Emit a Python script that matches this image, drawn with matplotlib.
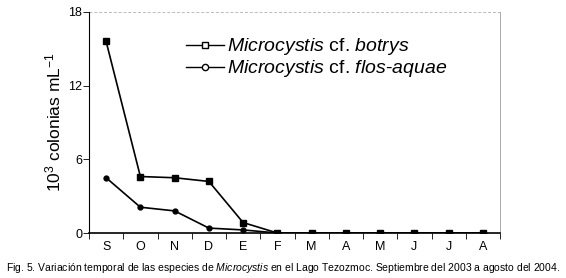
import numpy as np
import matplotlib
matplotlib.use("Agg")
import matplotlib.pyplot as plt
from matplotlib.lines import Line2D

plt.rcParams['font.family'] = ['Liberation Sans', 'DejaVu Sans']
plt.rcParams['mathtext.fontset'] = 'custom'
plt.rcParams['mathtext.rm'] = 'Liberation Sans'
plt.rcParams['mathtext.it'] = 'Liberation Sans:italic'

months = ["S", "O", "N", "D", "E", "F", "M", "A", "M", "J", "J", "A"]
botrys = [15.6, 4.6, 4.5, 4.2, 0.85, 0, 0, 0, 0, 0, 0, 0]
flos_aquae = [4.5, 2.1, 1.8, 0.4, 0.25, 0, 0, 0, 0, 0, 0, 0]
yticks = [0, 6, 12, 18]
caption = ("Fig. 5. Variación temporal de las especies de $\\mathit{Microcystis}$ "
           "en el Lago Tezozmoc. Septiembre del 2003 a agosto del 2004.")

fig = plt.figure(figsize=(5.66, 2.78), dpi=100)
ax = fig.add_axes([89 / 566, 45 / 278, 411 / 566, 221 / 278])

x = np.arange(len(months)) + 0.5
ax.plot(x, flos_aquae, color='black', lw=1.2, marker='o', ms=3.5, zorder=3)
ax.plot(x, botrys, color='black', lw=1.2, marker='s', ms=5, zorder=4)

ax.set_xlim(0, len(months))
ax.set_ylim(0, 18)
ax.set_yticks(yticks)
ax.set_xticks(x)
ax.set_xticklabels(months)
ax.set_xticks(np.arange(len(months) + 1), minor=True)
ax.tick_params(axis='x', which='major', length=0, pad=6, labelsize=9)
ax.tick_params(axis='x', which='minor', length=4, direction='out', width=0.6)
ax.tick_params(axis='y', length=4, width=0.6, pad=1, labelsize=9)

ax.axhline(18, color='#bbbbbb', lw=0.7, ls=(0, (3, 2)), zorder=1)
ax.spines['top'].set_visible(False)
ax.spines['right'].set_color('#aaaaaa')
ax.spines['right'].set_linewidth(0.7)
ax.spines['left'].set_linewidth(0.8)
ax.spines['bottom'].set_linewidth(1.2)

ax.set_ylabel("10$^3$ colonias mL$^{-1}$", fontsize=12.5, labelpad=3)

handles = [
    Line2D([], [], color='black', lw=1, marker='s', ms=5, mfc='white', mec='black'),
    Line2D([], [], color='black', lw=1, marker='o', ms=4.5, mfc='white', mec='black'),
]
labels = ["$\\mathit{Microcystis}$ cf. $\\mathit{botrys}$",
          "$\\mathit{Microcystis}$ cf. $\\mathit{flos}$-$\\mathit{aquae}$"]
ax.legend(handles, labels, loc='upper left', bbox_to_anchor=(0.216, 0.925),
          frameon=False, fontsize=14, handlelength=2.0, handletextpad=0.15,
          labelspacing=0.05, borderaxespad=0)

fig.text(0.5, 10 / 278, caption, ha='center', va='center', fontsize=7.5)

fig.savefig("out.png", dpi=100)
